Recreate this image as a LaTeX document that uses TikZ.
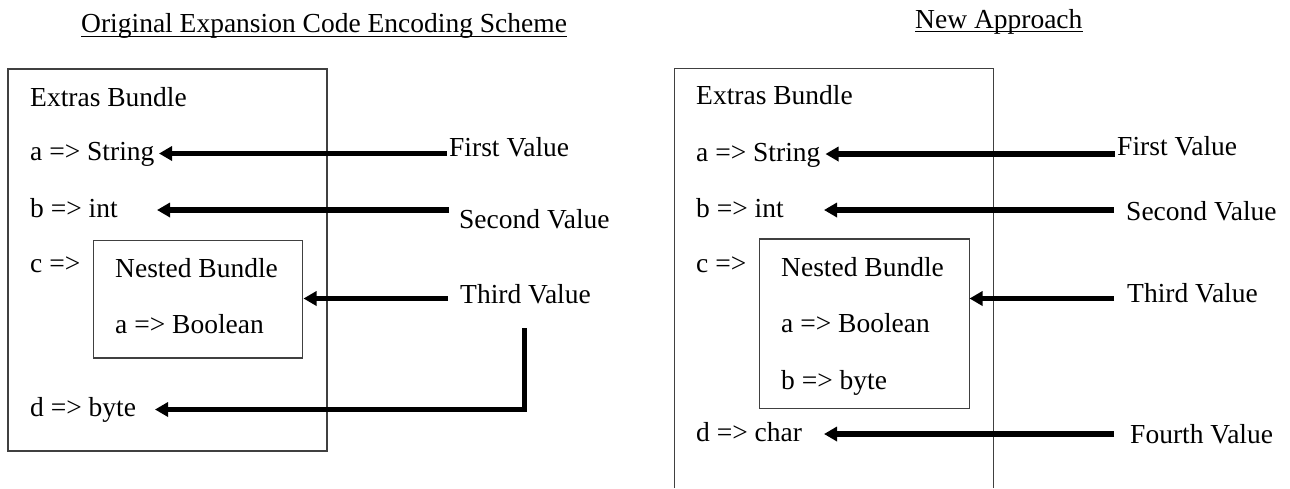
\documentclass[tikz,border=0pt]{standalone}
\usepackage{fontspec}
\setmainfont{Liberation Serif}
\usetikzlibrary{arrows.meta}

\begin{document}
\begin{tikzpicture}[x=1pt, y=-1pt, >={Triangle[length=13pt,width=14pt]},
  txt/.style={anchor=base west, inner sep=0pt, font=\fontsize{27.5}{33}\selectfont},
  box/.style={draw=black!75, line width=1.3pt},
  val/.style={->, line width=5.5pt}]

\useasboundingbox (0,0) rectangle (1290,488);

% original scheme
\node[txt] (ttl1) at (81,32.7) {Original Expansion Code Encoding Scheme};
\draw[line width=1.2pt] ([yshift=-4pt]ttl1.base west) -- ([yshift=-4pt]ttl1.base east);
\draw[box] (8,69) rectangle (327,451);
\draw[box] (93.5,240.5) rectangle (302.5,358);
\foreach \px/\py/\lab [count=\i] in {30/106/Extras Bundle, 30/160/a => String,
  30/217/b => int, 30/272/c =>, 115/277/Nested Bundle, 115/333/a => Boolean,
  30/416/d => byte}
  \node[txt] (lrow\i) at (\px,\py) {\lab};
\foreach \px/\py/\lab [count=\i] in {449/156.7/First Value, 459/228.3/Second Value,
  460/303/Third Value}
  \node[txt] (lval\i) at (\px,\py) {\lab};
\foreach \sx/\ex/\ay [count=\i] in {447/159/153.5, 449/157/210, 448/303.5/298.5}
{
  \coordinate (ls\i) at (\sx,\ay);
  \coordinate (le\i) at (\ex,\ay);
  \draw[val] (ls\i) -- (le\i);
}
\coordinate (ls4) at (524.5,328);
\coordinate (lc4) at (524.5,409.5);
\coordinate (le4) at (155,409.5);
\draw[val] (ls4) -- (lc4) -- (le4);

% new approach
\node[txt] (ttl2) at (915,28.3) {New Approach};
\draw[line width=1.2pt] ([yshift=-3.5pt]ttl2.base west) -- ([yshift=-3.5pt]ttl2.base east);
\draw[box] (674.5,488) -- (674.5,68.5) -- (993.5,68.5) -- (993.5,488);
\draw[box] (759.5,239) rectangle (969.5,408.5);
\foreach \px/\py/\lab [count=\i] in {696/104.5/Extras Bundle, 696/161/a => String,
  696/217/b => int, 696/272/c =>, 781/276/Nested Bundle, 781/332/a => Boolean,
  781/389/b => byte, 696/441/d => char}
  \node[txt] (rrow\i) at (\px,\py) {\lab};
\foreach \px/\py/\lab [count=\i] in {1117/155/First Value, 1126/220/Second Value,
  1127/302/Third Value, 1130/443/Fourth Value}
  \node[txt] (rval\i) at (\px,\py) {\lab};
\foreach \sx/\ex/\ay [count=\i] in {1115/825.5/154, 1114/824/210,
  1114/969.5/298.5, 1114/824/434}
{
  \coordinate (rs\i) at (\sx,\ay);
  \coordinate (re\i) at (\ex,\ay);
  \draw[val] (rs\i) -- (re\i);
}

\end{tikzpicture}
\end{document}
